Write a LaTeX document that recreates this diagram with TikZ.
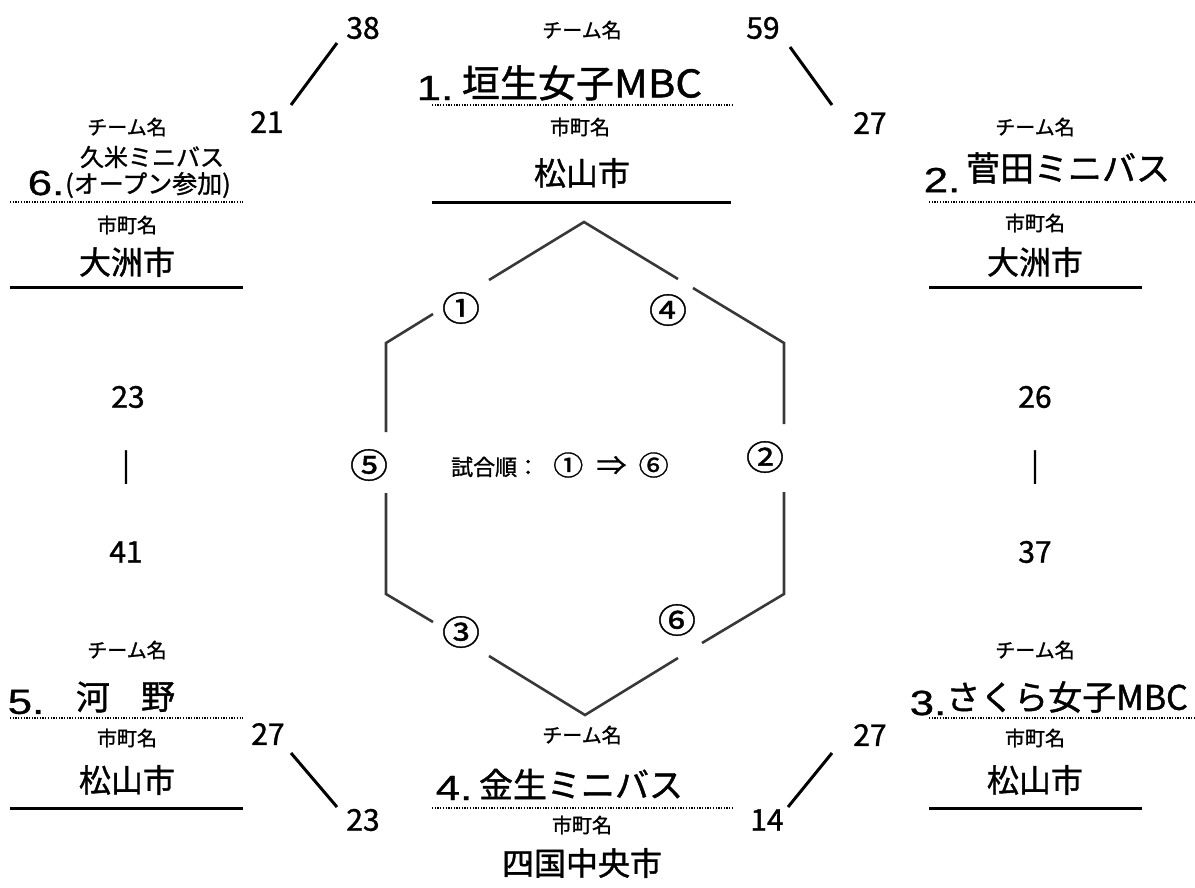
\documentclass[tikz,border=0pt]{standalone}
\usepackage{fontspec}
\setmainfont{Noto Sans CJK JP}[FakeBold=1.2]
\newfontfamily\circfont{Noto Sans CJK JP}[FakeStretch=1.12,FakeBold=1.2]
\newfontfamily\numfont{Liberation Sans}[FakeStretch=1.25,FakeBold=0.8]
\begin{document}
\begin{tikzpicture}[x=1pt,y=-1pt,
  every node/.style={inner sep=0pt},
  lbl/.style={font=\fontsize{20}{20}\selectfont},
  city/.style={font=\fontsize{32}{32}\selectfont},
  team/.style={font=\fontsize{34}{34}\selectfont},
  bigteam/.style={font=\fontsize{38}{38}\selectfont},
  num/.style={font=\numfont\fontsize{35}{35}\selectfont},
  sub/.style={font=\fontsize{24}{24}\selectfont},
  score/.style={font=\fontsize{30}{30}\selectfont},
  circ/.style={font=\circfont\fontsize{34}{34}\selectfont},
  dotline/.style={line width=2.5pt, dash pattern=on 1.3pt off 1.4pt},
  solidline/.style={line width=3pt},
  hexline/.style={line width=2.6pt, black!78, line join=miter},
  scoreline/.style={line width=3pt}]
\useasboundingbox (0,0) rectangle (1195,887);

% ---------- hexagon ----------
\coordinate (T)  at (584,222);
\coordinate (UR) at (784,343);
\coordinate (LR) at (784,594);
\coordinate (B)  at (585,715);
\coordinate (LL) at (386,594);
\coordinate (UL) at (386,343);
\coordinate (g1a) at (433,314); \coordinate (g1b) at (489,280);
\coordinate (g4a) at (678,279); \coordinate (g4b) at (693,288);
\coordinate (g2a) at (784,424); \coordinate (g2b) at (784,492);
\coordinate (g6a) at (702,643); \coordinate (g6b) at (678,658);
\coordinate (g3a) at (489,656); \coordinate (g3b) at (433,622);
\coordinate (g5a) at (386,493); \coordinate (g5b) at (386,432);
\draw[hexline] (g1b) -- (T) -- (g4a);
\draw[hexline] (g4b) -- (UR) -- (g2a);
\draw[hexline] (g2b) -- (LR) -- (g6a);
\draw[hexline] (g6b) -- (B) -- (g3a);
\draw[hexline] (g3b) -- (LL) -- (g5a);
\draw[hexline] (g5b) -- (UL) -- (g1a);

\node[circ] (c1) at (461,308) {①};
\node[circ] (c4) at (668,310) {④};
\node[circ] (c5) at (369,465) {⑤};
\node[circ] (c2) at (765,457) {②};
\node[circ] (c3) at (461,632) {③};
\node[circ] (c6) at (677,620) {⑥};

\node[font=\fontsize{22}{22}\selectfont] (order) at (560,465)
  {試合順：\hspace{14pt}{\circfont\fontsize{27}{27}\selectfont ①\hspace{13pt}⇒\hspace{12pt}⑥}};

% ---------- top centre: 1 ----------
\node[lbl]  (t1l) at (582,30) {チーム名};
\node[num]  (t1n) at (435,88) {1.};
\node[bigteam] (t1)  at (582,83) {垣生女子\scalebox{1.1}[1]{MBC}};
\draw[dotline] (432,105) -- (732,105);
\node[lbl]  (t1c) at (580,127) {市町名};
\node[city] (t1m) at (582,173) {松山市};
\draw[solidline] (432,202) -- (731,202);

% ---------- top right: 2 ----------
\node[lbl]  (t2l) at (1035,127) {チーム名};
\node[num]  (t2n) at (942,180) {2.};
\node[team] (t2)  at (1068,168) {菅田ミニバス};
\draw[dotline] (929,202) -- (1195,202);
\node[lbl]  (t2c) at (1035,223) {市町名};
\node[city] (t2m) at (1035,262) {大洲市};
\draw[solidline] (929,287) -- (1142,287);

% ---------- bottom right: 3 ----------
\node[lbl]  (t3l) at (1035,650) {チーム名};
\node[num]  (t3n) at (928,703) {3.};
\node[team] (t3)  at (1067,697) {さくら女子MBC};
\draw[dotline] (929,718) -- (1195,718);
\node[lbl]  (t3c) at (1035,738) {市町名};
\node[city] (t3m) at (1035,780) {松山市};
\draw[solidline] (929,808) -- (1142,808);

% ---------- bottom centre: 4 ----------
\node[lbl]  (t4l) at (582,735) {チーム名};
\node[num]  (t4n) at (454,788) {4.};
\node[team] (t4)  at (581,784) {金生ミニバス};
\draw[dotline] (432,808) -- (732,808);
\node[lbl]  (t4c) at (582,825) {市町名};
\node[city] (t4m) at (582,863) {四国中央市};

% ---------- bottom left: 5 ----------
\node[lbl]  (t5l) at (127,650) {チーム名};
\node[num]  (t5n) at (26,702) {5.};
\node[team] (t5a) at (93,697) {河};
\node[team] (t5b) at (158,697) {野};
\draw[dotline] (10,718) -- (243,718);
\node[lbl]  (t5c) at (127,738) {市町名};
\node[city] (t5m) at (127,780) {松山市};
\draw[solidline] (10,808) -- (243,808);

% ---------- top left: 6 ----------
\node[lbl]  (t6l) at (127,127) {チーム名};
\node[sub]  (t6a) at (152,157) {久米ミニバス};
\node[num]  (t6n) at (46,183) {6.};
\node[sub]  (t6b) at (148,185) {\fontsize{25}{25}\selectfont(オープン参加)};
\draw[dotline] (10,202) -- (243,202);
\node[lbl]  (t6c) at (127,225) {市町名};
\node[city] (t6m) at (127,262) {大洲市};
\draw[solidline] (10,287) -- (243,287);

% ---------- scores ----------
\node[score] (s38) at (363,28) {38};
\node[score] (s21) at (267,122) {21};
\coordinate (a1) at (337,43); \coordinate (a2) at (291,105);
\draw[scoreline] (a1) -- (a2);

\node[score] (s59) at (763,28) {59};
\node[score] (s27a) at (870,123) {27};
\coordinate (b1) at (790,47); \coordinate (b2) at (832,105);
\draw[scoreline] (b1) -- (b2);

\node[score] (s23a) at (128,397) {23};
\node[score] (bar1) at (126,467) {|};
\node[score] (s41) at (126,552) {41};

\node[score] (s26) at (1035,397) {26};
\node[score] (bar2) at (1035,467) {|};
\node[score] (s37) at (1035,552) {37};

\node[score] (s27b) at (268,734) {27};
\node[score] (s23b) at (363,820) {23};
\coordinate (d1) at (291,753); \coordinate (d2) at (337,807);
\draw[scoreline] (d1) -- (d2);

\node[score] (s27c) at (870,735) {27};
\node[score] (s14) at (767,820) {14};
\coordinate (e1) at (832,753); \coordinate (e2) at (788,807);
\draw[scoreline] (e1) -- (e2);
\end{tikzpicture}
\end{document}
